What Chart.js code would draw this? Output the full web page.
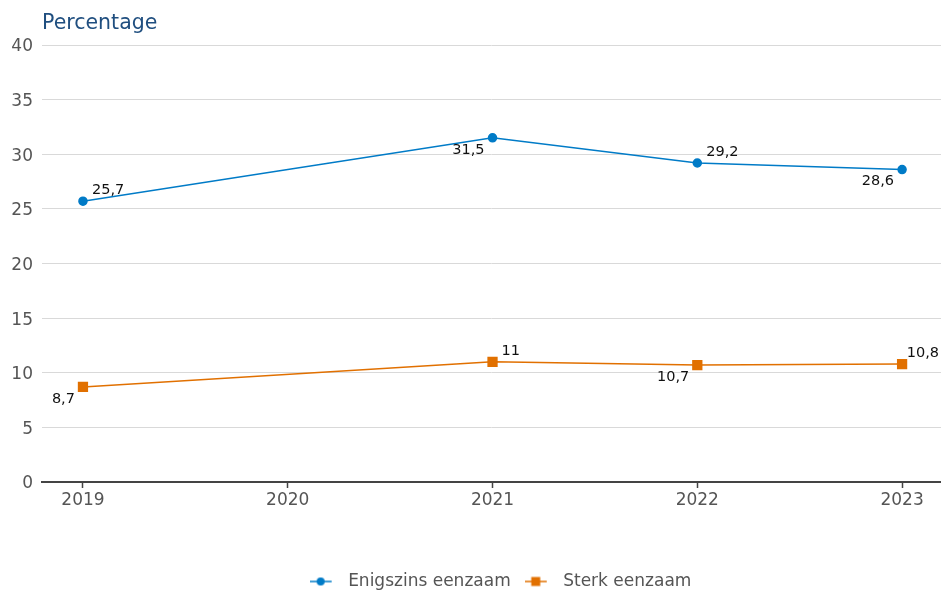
<!DOCTYPE html>
<html>
<head>
<meta charset="utf-8">
<script src="https://cdn.jsdelivr.net/npm/chart.js@4/dist/chart.umd.min.js"></script>
<style>
  html, body { margin: 0; padding: 0; background: #fff; }
  #wrap { width: 941px; height: 592px; }
</style>
</head>
<body>
<div id="wrap"><canvas id="lonelyChart" width="941" height="592"></canvas></div>
<script>
  // data
  const years = [2019, 2021, 2022, 2023];
  const tickYears = [2019, 2020, 2021, 2022, 2023];
  const enigszins = [25.7, 31.5, 29.2, 28.6];
  const sterk = [8.7, 11, 10.7, 10.8];
  const seriesNames = ['Enigszins eenzaam', 'Sterk eenzaam'];

  const blue = '#007bc7';
  const orange = '#e17000';
  const font = 'DejaVu Sans';

  // where each value label sits: 'ar' above-right, 'bl' below-left
  const labelSides = [
    ['ar', 'bl', 'ar', 'bl'],
    ['bl', 'ar', 'bl', 'ar'],
  ];

  const legendIcon = (color, style) => {
    const c = document.createElement('canvas');
    c.width = 30;
    c.height = 12;
    const g = c.getContext('2d');
    g.strokeStyle = color;
    g.lineWidth = 1.5;
    g.beginPath();
    g.moveTo(0, 6);
    g.lineTo(22, 6);
    g.stroke();
    g.fillStyle = color;
    if (style === 'rect') {
      g.fillRect(6.5, 1.5, 9, 9);
    } else {
      g.beginPath();
      g.arc(11, 6, 4, 0, Math.PI * 2);
      g.fill();
    }
    return c;
  };

  const toPoints = (vals) => vals.map((v, i) => ({ x: years[i], y: v }));

  const valueLabels = {
    id: 'valueLabels',
    afterDatasetsDraw(chart) {
      const ctx = chart.ctx;
      ctx.save();
      ctx.font = '14.5px "' + font + '"';
      ctx.fillStyle = '#111';
      ctx.textBaseline = 'middle';
      chart.data.datasets.forEach((ds, di) => {
        chart.getDatasetMeta(di).data.forEach((pt, i) => {
          const txt = String(ds.data[i].y).replace('.', ',');
          const side = labelSides[di][i];
          let x, y;
          if (side === 'ar') {
            ctx.textAlign = 'left';
            x = pt.x + 9;
            y = pt.y - 11;
            const w = ctx.measureText(txt).width;
            if (x + w > chart.width - 2) x = chart.width - 2 - w;
          } else {
            ctx.textAlign = 'right';
            x = pt.x - 8;
            y = pt.y + 12;
          }
          ctx.fillText(txt, x, y);
        });
      });
      ctx.restore();
    },
  };

  const layoutTweaks = {
    id: 'layoutTweaks',
    afterLayout(chart) {
      // let the plot run to the right edge of the canvas
      const ca = chart.chartArea;
      const d = chart.width - ca.right;
      ca.right += d;
      ca.width += d;
      const x = chart.scales.x;
      x.right += d;
      x.width += d;
      x.configure();
      // legend sits a little lower and to the right
      chart.legend.left += 60;
      chart.legend.top += 8;
      chart.legend.bottom += 8;
    },
    afterDraw(chart) {
      const ctx = chart.ctx;
      ctx.save();
      ctx.font = '20.5px "' + font + '"';
      ctx.fillStyle = '#1f4e7f';
      ctx.textAlign = 'left';
      ctx.textBaseline = 'middle';
      ctx.fillText('Percentage', chart.chartArea.left, 24);
      ctx.restore();
    },
  };

  var chart = new Chart(document.getElementById('lonelyChart'), {
    type: 'line',
    data: {
      datasets: [
        {
          label: seriesNames[0],
          data: toPoints(enigszins),
          borderColor: blue,
          backgroundColor: blue,
          borderWidth: 1.5,
          pointStyle: 'circle',
          pointRadius: 4,
          pointHoverRadius: 4,
          tension: 0,
        },
        {
          label: seriesNames[1],
          data: toPoints(sterk),
          borderColor: orange,
          backgroundColor: orange,
          borderWidth: 1.5,
          pointStyle: 'rect',
          pointRadius: 6.2,
          pointHoverRadius: 6.2,
          tension: 0,
        },
      ],
    },
    options: {
      responsive: false,
      animation: false,
      layout: { padding: { top: 45, right: 0, left: 0, bottom: 0 } },
      plugins: {
        title: { display: false },
        tooltip: { enabled: false },
        legend: {
          position: 'bottom',
          labels: {
            usePointStyle: true,
            pointStyleWidth: 30,
            padding: 14,
            color: '#555',
            font: { family: font, size: 17 },
            generateLabels: (c) =>
              c.data.datasets.map((ds, i) => ({
                text: ds.label,
                fontColor: '#555',
                pointStyle: legendIcon(ds.borderColor, ds.pointStyle),
                datasetIndex: i,
                lineWidth: 0,
                strokeStyle: 'transparent',
                fillStyle: 'transparent',
              })),
          },
        },
      },
      scales: {
        x: {
          type: 'linear',
          min: 2018.8,
          max: 2023.19,
          afterBuildTicks: (scale) => {
            scale.ticks = tickYears.map((v) => ({ value: v }));
          },
          afterFit: (scale) => {
            scale.height = 69;
            scale.paddingLeft = 0;
            scale.paddingRight = 0;
          },
          grid: {
            drawOnChartArea: false,
            drawTicks: true,
            tickLength: 6,
            tickWidth: 1.5,
            tickColor: '#444',
          },
          border: { display: true, color: '#444', width: 2 },
          ticks: {
            padding: 2,
            color: '#555',
            font: { family: font, size: 17 },
            callback: (v) => String(v),
          },
        },
        y: {
          min: 0,
          max: 40,
          afterFit: (scale) => {
            scale.width = 42;
          },
          grid: { color: '#d9d9d9', lineWidth: 1, drawTicks: false },
          border: { display: false },
          ticks: {
            stepSize: 5,
            padding: 9,
            labelOffset: 2,
            color: '#555',
            font: { family: font, size: 17 },
          },
        },
      },
    },
    plugins: [valueLabels, layoutTweaks],
  });
</script>
</body>
</html>
